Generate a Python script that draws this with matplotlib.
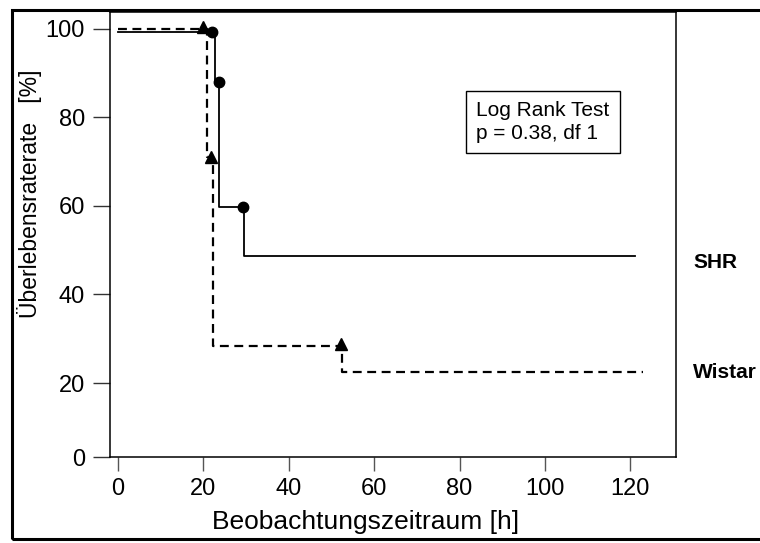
import numpy as np
import matplotlib.pyplot as plt
from matplotlib.patches import Rectangle

plt.rcParams['font.family'] = ['Liberation Sans', 'DejaVu Sans']

# survival curves (step, where='post')
shr_t = [0, 22.7, 23.7, 29.5, 121]
shr_s = [99.3, 88.0, 59.8, 48.7, 48.7]
shr_cens_t = [22.0, 23.7, 29.3]
shr_cens_s = [99.3, 88.0, 59.8]

wistar_t = [0, 20.8, 22.2, 52.5, 123]
wistar_s = [100, 71.1, 28.4, 22.5, 22.5]
wistar_cens_t = [20.0, 21.8, 52.2]
wistar_cens_s = [100.3, 71.1, 28.8]

x_ticks = [0, 20, 40, 60, 80, 100, 120]
y_ticks = [0, 20, 40, 60, 80, 100]

fig = plt.figure(figsize=(7.6, 5.43), dpi=100)
ax = fig.add_axes([110/760, 1-457/543, 566/760, 445/543])

ax.step(shr_t, shr_s, where='post', color='black', lw=1.3)
ax.plot(shr_cens_t, shr_cens_s, 'o', color='black', ms=7.5, ls='none')
ax.step(wistar_t, wistar_s, where='post', color='black', lw=1.6, ls=(0, (4, 2.5)))
ax.plot(wistar_cens_t, wistar_cens_s, '^', color='black', ms=9, ls='none')

ybot = 3.3
ax.set_xlim(-1.9, 130.7)
ax.set_ylim(ybot, 103.8)
ax.set_xticks(x_ticks)
ax.set_xticklabels([str(t) for t in x_ticks])
ax.set_yticks([max(t, ybot) for t in y_ticks])
ax.set_yticklabels([str(t) for t in y_ticks])
ax.tick_params(axis='x', direction='out', length=10, width=1, color='#555555',
               pad=5, labelsize=17)
ax.tick_params(axis='y', direction='out', length=12, width=1, color='#333333',
               pad=6, labelsize=17)
for s in ax.spines.values():
    s.set_linewidth(1.1)

fig.text(366/760, 1-522/543, 'Beobachtungszeitraum [h]', fontsize=19,
         ha='center', va='center')
fig.text(30/760, 1-194/543, 'Überlebensraterate   [%]', fontsize=16.5,
         rotation=90, ha='center', va='center')

ax.text(0.647, 0.753, 'Log Rank Test\np = 0.38, df 1', transform=ax.transAxes,
        fontsize=15, va='center', ha='left', linespacing=1.25,
        bbox=dict(boxstyle='square,pad=0.5', fc='white', ec='black', lw=1))

fig.text(693/760, 1-262/543, 'SHR', fontsize=15, fontweight='bold', va='center')
fig.text(693/760, 1-372/543, 'Wistar', fontsize=15, fontweight='bold', va='center')

# outer frame
fig.patches.append(Rectangle((12/760, 4/543), 1.0, 529/543, transform=fig.transFigure,
                             fill=False, ec='black', lw=2.2))

fig.savefig('out.png', dpi=100)
